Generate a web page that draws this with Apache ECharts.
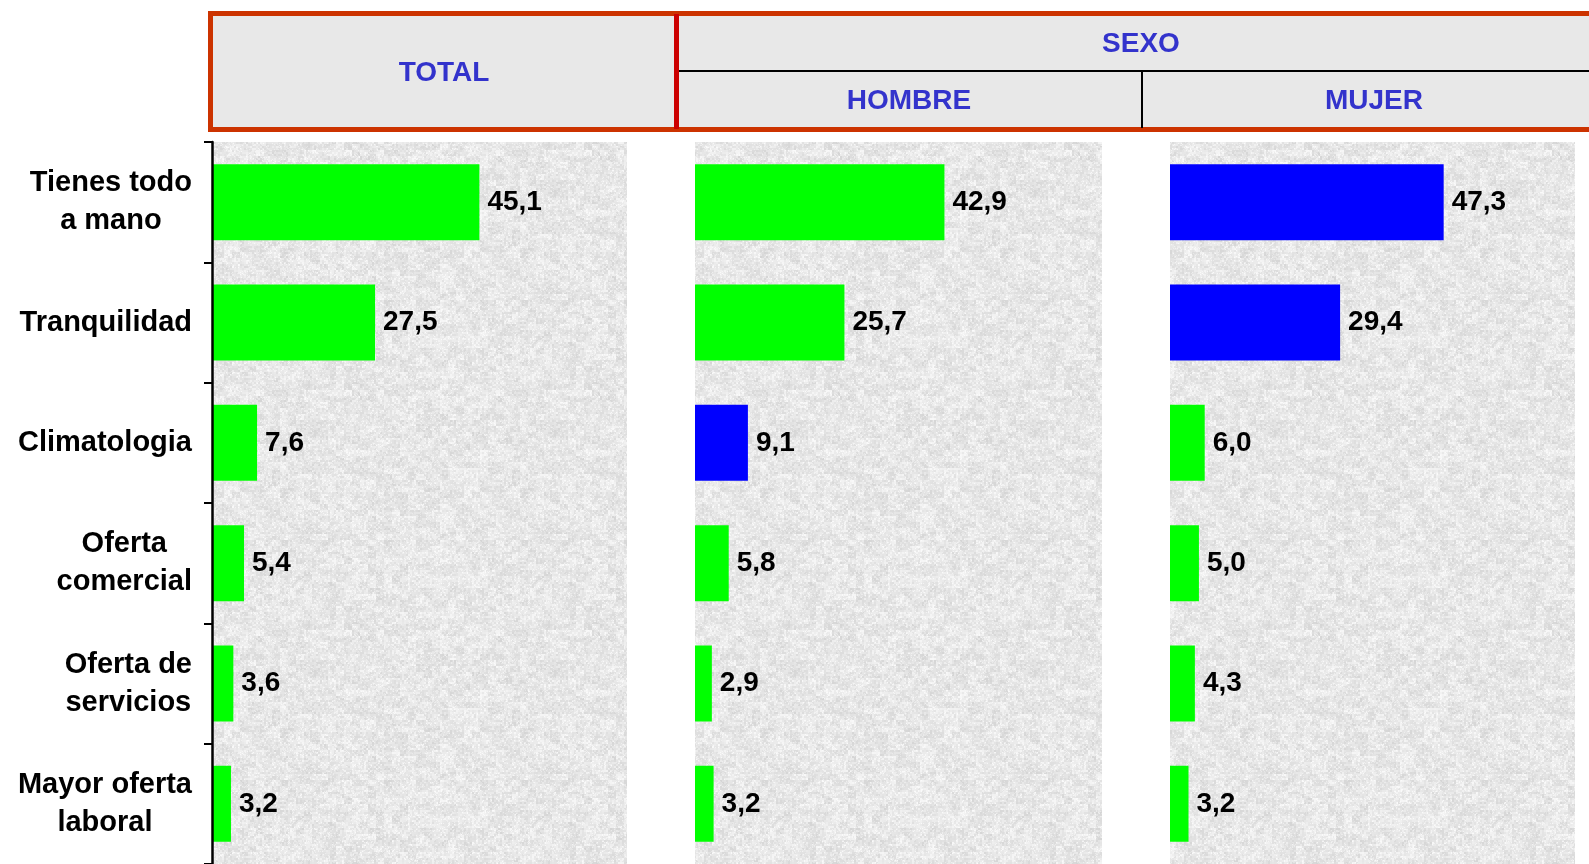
<!DOCTYPE html>
<html>
<head>
<meta charset="utf-8">
<script src="https://cdn.jsdelivr.net/npm/echarts@6/dist/echarts.min.js"></script>
<style>
  html, body { margin: 0; padding: 0; background: #fff; }
  #chart { width: 1589px; height: 864px; }
</style>
</head>
<body>
<div id="chart"></div>
<script>
  // datos
  var categorias = ['Tienes todo\na mano', 'Tranquilidad', 'Climatologia', 'Oferta\ncomercial', 'Oferta de\nservicios', 'Mayor oferta\nlaboral'];
  var total = [45.1, 27.5, 7.6, 5.4, 3.6, 3.2];
  var hombre = [42.9, 25.7, 9.1, 5.8, 2.9, 3.2];
  var mujer = [47.3, 29.4, 6.0, 5.0, 4.3, 3.2];
  // barras destacadas (en azul)
  var destacadoTotal = [false, false, false, false, false, false];
  var destacadoHombre = [false, false, true, false, false, false];
  var destacadoMujer = [true, true, false, false, false, false];
  var tituloGrupo = 'SEXO';
  var titulos = ['TOTAL', 'HOMBRE', 'MUJER'];

  var FUENTE = '"Liberation Sans", Arial, sans-serif';

  // textura granito del fondo de cada panel
  function textura() {
    var n = 240;
    var c = document.createElement('canvas');
    c.width = n; c.height = n;
    var ctx = c.getContext('2d');
    var img = ctx.createImageData(n, n);
    function h(x, y) { var s = Math.sin(x * 127.1 + y * 311.7) * 43758.5453; return s - Math.floor(s); }
    for (var y = 0; y < n; y++) {
      for (var x = 0; x < n; x++) {
        var v = 230 + (h(Math.floor(x / 2), Math.floor(y / 2)) - 0.5) * 20
                    + (h(Math.floor(x / 8) + 50, Math.floor(y / 6)) - 0.5) * 16;
        if (h(x + 3, y + 7) > 0.9) v += 12;
        v = Math.max(195, Math.min(250, v));
        var i = (y * n + x) * 4;
        img.data[i] = img.data[i + 1] = img.data[i + 2] = v;
        img.data[i + 3] = 255;
      }
    }
    ctx.putImageData(img, 0, 0);
    return { image: c, repeat: 'repeat' };
  }
  var fondo = textura();

  var paneles = [
    { left: 212, width: 415, datos: total, destacado: destacadoTotal },
    { left: 695, width: 407, datos: hombre, destacado: destacadoHombre },
    { left: 1170, width: 405, datos: mujer, destacado: destacadoMujer }
  ];

  var grids = [], xAxes = [], yAxes = [], series = [];
  paneles.forEach(function (p, i) {
    grids.push({ left: p.left, top: 142, width: p.width, height: 727, show: true, backgroundColor: fondo, borderWidth: 0 });
    xAxes.push({ type: 'value', gridIndex: i, min: 0, max: 70, show: false });
    yAxes.push({
      type: 'category', gridIndex: i, data: categorias, inverse: true, show: i === 0, z: 5,
      axisLine: { show: true, lineStyle: { color: '#000', width: 2.5 } },
      axisTick: { show: true, length: 8, lineStyle: { color: '#000', width: 2 } },
      axisLabel: {
        margin: 20,
        formatter: function (v) { return '{c|' + v.split('\n').join('}\n{c|') + '}'; },
        rich: { c: { align: 'center', fontFamily: FUENTE, fontWeight: 'bold', fontSize: 29, lineHeight: 38, color: '#000' } }
      }
    });
    series.push({
      type: 'bar', xAxisIndex: i, yAxisIndex: i, data: p.datos, barWidth: 76,
      itemStyle: { color: function (d) { return p.destacado[d.dataIndex] ? '#0000ff' : '#00ff00'; } },
      label: {
        show: true, position: 'right', distance: 8,
        fontFamily: FUENTE, fontWeight: 'bold', fontSize: 28, color: '#000',
        formatter: function (d) { return d.value.toFixed(1).replace('.', ','); }
      },
      silent: true
    });
  });

  function texto(t, x, y) {
    return { type: 'text', x: x, y: y, style: { text: t, fill: '#3333cc', font: 'bold 28px ' + FUENTE, textAlign: 'center', textVerticalAlign: 'middle' } };
  }

  var cabecera = [
    { type: 'rect', shape: { x: 210.5, y: 13.5, width: 1400, height: 116 }, style: { fill: '#e8e8e8', stroke: '#cc3300', lineWidth: 5 } },
    { type: 'line', shape: { x1: 679, y1: 71, x2: 1595, y2: 71 }, style: { stroke: '#000', lineWidth: 2 } },
    { type: 'line', shape: { x1: 1142, y1: 71, x2: 1142, y2: 128 }, style: { stroke: '#000', lineWidth: 2 } },
    { type: 'line', shape: { x1: 676.5, y1: 14, x2: 676.5, y2: 129 }, style: { stroke: '#cc0000', lineWidth: 5 } },
    texto(titulos[0], 444, 73),
    texto(tituloGrupo, 1141, 44),
    texto(titulos[1], 909, 101),
    texto(titulos[2], 1374, 101)
  ];

  var myChart = echarts.init(document.getElementById('chart'));
  myChart.setOption({
    animation: false,
    grid: grids,
    xAxis: xAxes,
    yAxis: yAxes,
    series: series,
    graphic: cabecera
  });
</script>
</body>
</html>
